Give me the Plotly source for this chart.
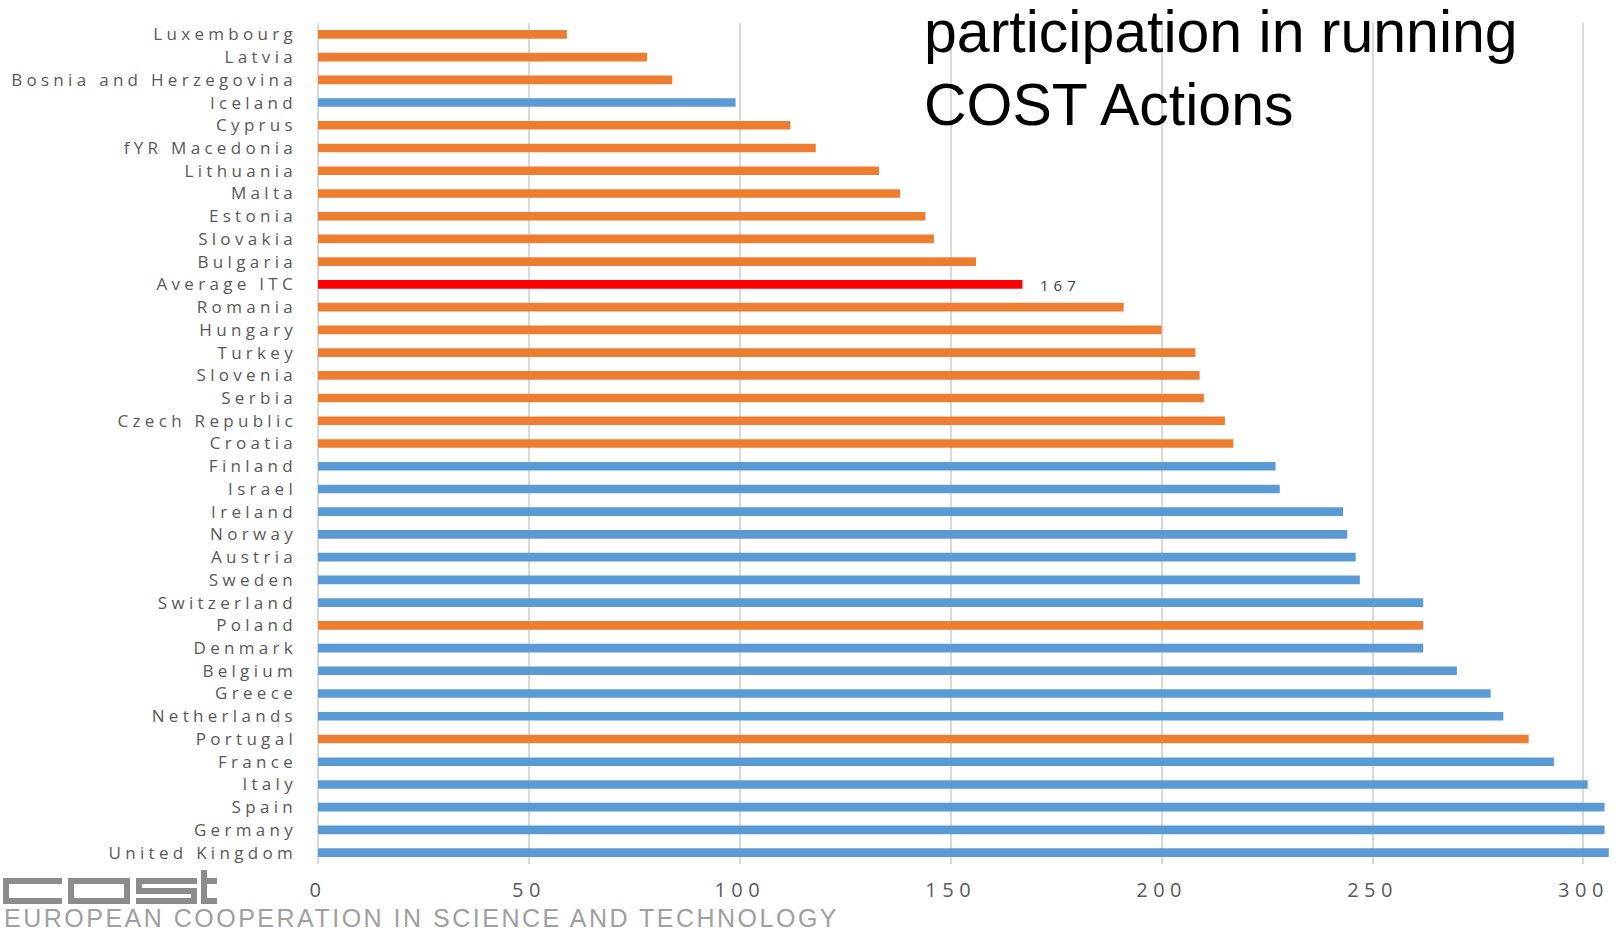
import plotly.graph_objects as go

countries = ["Luxembourg", "Latvia", "Bosnia and Herzegovina", "Iceland", "Cyprus",
             "fYR Macedonia", "Lithuania", "Malta", "Estonia", "Slovakia", "Bulgaria",
             "Average ITC", "Romania", "Hungary", "Turkey", "Slovenia", "Serbia",
             "Czech Republic", "Croatia", "Finland", "Israel", "Ireland", "Norway",
             "Austria", "Sweden", "Switzerland", "Poland", "Denmark", "Belgium",
             "Greece", "Netherlands", "Portugal", "France", "Italy", "Spain",
             "Germany", "United Kingdom"]
participations = [59, 78, 84, 99, 112, 118, 133, 138, 144, 146, 156,
                  167, 191, 200, 208, 209, 210, 215, 217, 227, 228, 243, 244,
                  246, 247, 262, 262, 262, 270, 278, 281, 287, 293, 301, 305,
                  305, 306]
groups = ["ITC", "ITC", "ITC", "Other", "ITC", "ITC", "ITC", "ITC", "ITC", "ITC", "ITC",
          "Average", "ITC", "ITC", "ITC", "ITC", "ITC", "ITC", "ITC", "Other", "Other",
          "Other", "Other", "Other", "Other", "Other", "ITC", "Other", "Other", "Other",
          "Other", "ITC", "Other", "Other", "Other", "Other", "Other"]
x_ticks = [0, 50, 100, 150, 200, 250, 300]
title_lines = ["participation in running", "COST Actions"]
footer_text = "EUROPEAN COOPERATION IN SCIENCE AND TECHNOLOGY"
average_label = "Average ITC"

group_colors = {"ITC": "#ED7D31", "Other": "#5B9BD5", "Average": "#FF0000"}

W, H = 1622, 934
L, R, T, B = 318, 1613, 23, 864


def px(X):
    return (X - L) / (R - L)


def py(Y):
    return (B - Y) / (B - T)


fig = go.Figure()
fig.add_trace(go.Bar(
    x=participations, y=countries, orientation="h",
    marker=dict(color=[group_colors[g] for g in groups], line=dict(width=0)),
    hoverinfo="x+y", showlegend=False,
))

avg_value = participations[countries.index(average_label)]

annotations = [
    dict(x=avg_value, y=average_label, xref="x", yref="y", text=str(avg_value),
         showarrow=False, xanchor="left", yanchor="middle", align="left",
         xshift=16, yshift=-1,
         font=dict(family="Open Sans", size=15, color="#404040")),
    dict(x=px(922), y=py(32), xref="paper", yref="paper", text=title_lines[0],
         showarrow=False, xanchor="left", yanchor="middle",
         font=dict(family="Liberation Sans", size=59, color="#000000")),
    dict(x=px(922), y=py(105), xref="paper", yref="paper", text=title_lines[1],
         showarrow=False, xanchor="left", yanchor="middle",
         font=dict(family="Liberation Sans", size=59, color="#000000")),
    dict(x=px(2), y=py(934), xref="paper", yref="paper", text=footer_text,
         showarrow=False, xanchor="left", yanchor="bottom", align="left",
         font=dict(family="Liberation Sans", size=25, color="#a0a0a0")),
]

# COST logo drawn as simple block strokes (decoration)
logo_rects = [
    (3, 878, 62, 884), (3, 898, 62, 904), (3, 878, 9, 904),
    (68, 878, 130, 884), (68, 898, 130, 904), (68, 878, 74, 904), (124, 878, 130, 904),
    (136, 878, 197, 884), (136, 888, 197, 894), (136, 898, 197, 904),
    (136, 878, 142, 894), (191, 888, 197, 904),
    (201, 870, 207, 904), (201, 878, 217, 884), (201, 898, 217, 904),
]
shapes = [dict(type="rect", xref="paper", yref="paper",
               x0=px(a), x1=px(c), y0=py(d), y1=py(b),
               fillcolor="#8c8c8c", line=dict(width=0), layer="above")
          for (a, b, c, d) in logo_rects]

fig.update_layout(
    width=W, height=H,
    margin=dict(l=L, r=W - R, t=T, b=H - B, pad=0),
    paper_bgcolor="white", plot_bgcolor="white",
    bargap=0.62,
    annotations=annotations,
    shapes=shapes,
    xaxis=dict(range=[0, 307], tickvals=x_ticks, showgrid=True,
               gridcolor="#d9d9d9", gridwidth=2, zeroline=True,
               zerolinecolor="#d9d9d9", zerolinewidth=2, showline=False,
               ticks="", ticklabelstandoff=12,
               tickfont=dict(family="Open Sans", size=20, color="#595959")),
    yaxis=dict(autorange="reversed", showgrid=False, zeroline=False, showline=False,
               ticks="", ticklabelstandoff=20,
               tickfont=dict(family="Open Sans", size=17, color="#595959")),
)

post = """
document.body.style.margin = '0';
document.body.style.padding = '0';
var gd = document.getElementById('{plot_id}');
function sp(){
  gd.querySelectorAll('.ytick text').forEach(function(t){ t.style.letterSpacing='4.3px'; });
  gd.querySelectorAll('.xtick text').forEach(function(t){ t.style.letterSpacing='5.5px'; });
  var a = gd.querySelectorAll('.annotation-text');
  if (a.length > 0) { a[0].style.letterSpacing='5px'; }
  if (a.length > 3) { a[3].style.letterSpacing='2.5px'; }
}
sp();
"""

fig.write_html("out.html", post_script=post, config={"displayModeBar": False})
